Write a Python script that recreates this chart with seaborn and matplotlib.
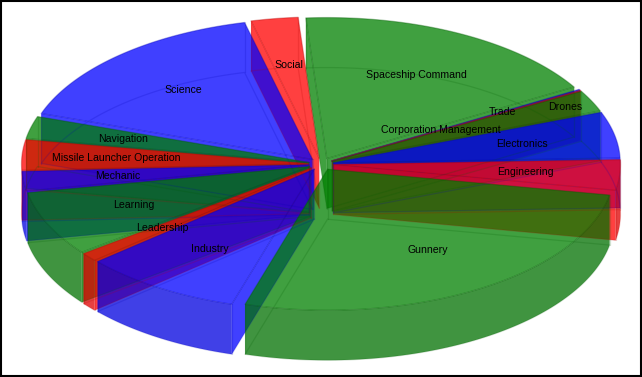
import matplotlib
matplotlib.use("Agg")
import matplotlib.pyplot as plt
from matplotlib.patches import Rectangle
import numpy as np
import pandas as pd
import seaborn as sns

#%% Values (share of the pie, clockwise)
skills = ['Corporation Management', 'Drones', 'Electronics', 'Engineering', 'Gunnery',
          'Industry', 'Leadership', 'Learning', 'Mechanic', 'Missile Launcher Operation',
          'Navigation', 'Science', 'Social', 'Spaceship Command', 'Trade']
points = [0.3, 8.8, 19.0, 12.5, 96.0, 32.3, 3.5, 26.7, 8.0, 12.5, 9.2, 57.2, 9.5, 63.6, 0.4]
cycle = ['red', 'green', 'blue']

#%% Pie geometry in pixels
width, height = 642, 377
cx, cy = 321, 164
rx, ry = 287, 141
depth = 50
explode = 12.5
start_angle = 30.1
alpha = 0.75
label_radius = 0.67
# the crowded thin slices have their labels pushed along the slice
label_radius_thin = {'Corporation Management': 0.44, 'Drones': 0.9, 'Trade': 0.69}

data = pd.DataFrame({'skill': skills, 'points': points})
data['color'] = [cycle[i % 3] for i in range(len(data))]
data['span'] = data['points'] / data['points'].sum() * 360
data['t_max'] = start_angle - data['span'].cumsum().shift(fill_value=0)
data['t_min'] = data['t_max'] - data['span']
data['mid'] = (data['t_min'] + data['t_max']) / 2
data['ax0'] = cx + explode * np.cos(np.radians(data['mid']))
data['ay0'] = cy - explode * ry / rx * np.sin(np.radians(data['mid']))
# back slices get painted first
data['order'] = np.sin(np.radians(data['mid']))
painted = data.sort_values('order', ascending=False)

sns.set_style("white")
plt.rcParams['font.family'] = ['Liberation Sans', 'DejaVu Sans']
fig = plt.figure(figsize=(width / 100, height / 100), dpi=100)
ax = fig.add_axes([0, 0, 1, 1])
ax.set_xlim(0, width)
ax.set_ylim(height, 0)
ax.axis('off')


def darker(color, amount):
    r, g, b = matplotlib.colors.to_rgb(color)
    return (r * amount, g * amount, b * amount)


for row in painted.itertuples():
    color = matplotlib.colors.to_rgb(row.color)
    line = darker(color, 0.7)
    t = np.radians(np.linspace(row.t_min, row.t_max, 80))
    arc_x = row.ax0 + rx * np.cos(t)
    arc_y = row.ay0 - ry * np.sin(t)
    face_x = np.r_[row.ax0, arc_x]
    face_y = np.r_[row.ay0, arc_y]

    # radial walls, only those turned towards the viewer
    if -np.cos(np.radians(row.t_min)) < 0:
        ax.fill([row.ax0, arc_x[0], arc_x[0], row.ax0],
                [row.ay0, arc_y[0], arc_y[0] + depth, row.ay0 + depth],
                color=color, alpha=alpha, lw=0)
    if np.cos(np.radians(row.t_max)) < 0:
        ax.fill([row.ax0, arc_x[-1], arc_x[-1], row.ax0],
                [row.ay0, arc_y[-1], arc_y[-1] + depth, row.ay0 + depth],
                color=color, alpha=alpha, lw=0)

    # outer rim, front half only
    front = np.sin(t) <= 0
    if front.sum() > 1:
        ax.fill(np.r_[arc_x[front], arc_x[front][::-1]],
                np.r_[arc_y[front], arc_y[front][::-1] + depth],
                color=darker(color, 0.88), alpha=alpha, lw=0)

    # top face
    ax.fill(face_x, face_y, color=color, alpha=alpha, lw=0)

    # the edges show through, faintly for the lower ones
    ax.plot(np.r_[face_x, face_x[0]], np.r_[face_y, face_y[0]], color=line, alpha=0.35, lw=0.9)
    if row.span > 1:
        ax.plot(np.r_[face_x, face_x[0]], np.r_[face_y, face_y[0]] + depth, color=line, alpha=0.18, lw=0.9)
        for px, py in [(row.ax0, row.ay0), (arc_x[0], arc_y[0]), (arc_x[-1], arc_y[-1])]:
            ax.plot([px, px], [py, py + depth], color=line, alpha=0.18, lw=0.9)

# labels sit along the middle of each slice
for row in data.itertuples():
    m = np.radians(row.mid)
    r = label_radius_thin.get(row.skill, label_radius)
    ax.text(row.ax0 + r * rx * np.cos(m), row.ay0 - r * ry * np.sin(m), row.skill,
            ha='center', va='center', fontsize=7.6, color='black')

ax.add_patch(Rectangle((0.5, 0.5), width - 1.5, height - 1.5, fill=False, ec='black', lw=1.5))

fig.savefig('out.png', dpi=100, facecolor='white')
